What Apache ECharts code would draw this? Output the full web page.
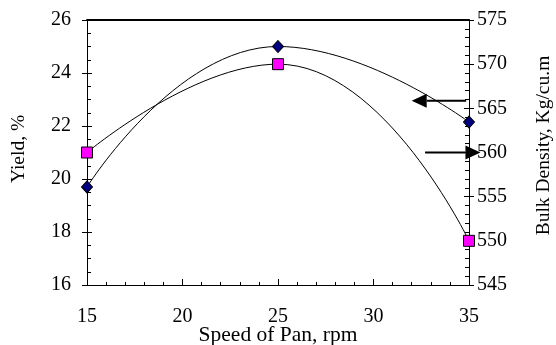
<!DOCTYPE html>
<html>
<head>
<meta charset="utf-8">
<script src="https://cdn.jsdelivr.net/npm/echarts@6/dist/echarts.min.js"></script>
<style>
  html, body { margin: 0; padding: 0; background: #fff; }
  #chart { width: 556px; height: 345px; }
</style>
</head>
<body>
<div id="chart"></div>
<script>
// speed of pan (rpm)
const speed = [15, 25, 35];
// yield, % (left axis, diamonds)
const yieldPct = [19.7, 25.0, 22.15];
// bulk density, Kg/cu.m (right axis, squares)
const bulkDensity = [560, 570, 550];
// arrows: [fromX, toX, y] -- left arrow on yield scale, right arrow on density scale
const yieldArrow = [34.85, 32.0, 22.95];
const densityArrow = [32.7, 35.6, 560];

const FONT = 'Liberation Serif';
const ink = '#000';

const tickLabel = { color: ink, fontFamily: FONT, fontSize: 20 };

function valAxis(opt) {
  return Object.assign({
    type: 'value',
    splitLine: { show: false },
    nameMoveOverlap: false,
    axisLine: { show: true, lineStyle: { color: ink, width: 1 } },
  }, opt);
}

const chart = echarts.init(document.getElementById('chart'), null, { renderer: 'canvas' });

const option = {
  animation: false,
  backgroundColor: '#fff',
  grid: { left: 87, right: 87, top: 20, bottom: 60, outerBoundsMode: 'none', containLabel: false },
  xAxis: [
    valAxis({
      min: 15, max: 35, interval: 5,
      name: 'Speed of Pan, rpm', nameLocation: 'middle', nameGap: 39,
      nameTextStyle: { color: ink, fontFamily: FONT, fontSize: 21.5 },
      axisTick: { inside: true, length: 6, lineStyle: { color: ink } },
      minorTick: { show: true, splitNumber: 5, length: 3, lineStyle: { color: ink } },
      axisLabel: Object.assign({ margin: 22 }, tickLabel)
    }),
    valAxis({
      position: 'top', min: 15, max: 35,
      axisLine: { show: true, lineStyle: { color: ink, width: 2 } },
      axisTick: { show: false }, axisLabel: { show: false }
    })
  ],
  yAxis: [
    valAxis({
      position: 'left', min: 16, max: 26, interval: 2,
      name: 'Yield, %', nameLocation: 'middle', nameGap: 58, nameRotate: 90,
      nameTextStyle: { color: ink, fontFamily: FONT, fontSize: 19.5, padding: [0, 0, 0, 7] },
      axisTick: { inside: false, length: 5, lineStyle: { color: ink } },
      axisLabel: Object.assign({ margin: 16 }, tickLabel)
    }),
    valAxis({
      position: 'left', min: 16, max: 26, interval: 2,
      axisLine: { show: false },
      axisTick: { inside: true, length: 5, lineStyle: { color: ink } },
      minorTick: { show: true, splitNumber: 4, length: 4, lineStyle: { color: ink } },
      axisLabel: { show: false }
    }),
    valAxis({
      position: 'right', min: 545, max: 575, interval: 5,
      name: 'Bulk Density, Kg/cu.m', nameLocation: 'middle', nameGap: 65, nameRotate: 90,
      nameTextStyle: { color: ink, fontFamily: FONT, fontSize: 19.5, padding: [0, 0, 0, 14] },
      axisTick: { inside: false, length: 5, lineStyle: { color: ink } },
      axisLabel: Object.assign({ margin: 8 }, tickLabel)
    }),
    valAxis({
      position: 'right', min: 545, max: 575, interval: 5,
      axisLine: { show: false },
      axisTick: { inside: true, length: 5, lineStyle: { color: ink } },
      minorTick: { show: true, splitNumber: 5, length: 4, lineStyle: { color: ink } },
      axisLabel: { show: false }
    })
  ],
  series: [
    {
      name: 'Yield', type: 'line', xAxisIndex: 0, yAxisIndex: 0,
      data: speed.map((s, i) => [s, yieldPct[i]]),
      smooth: 0.5, clip: false,
      lineStyle: { color: ink, width: 1 },
      symbol: 'diamond', symbolSize: [11, 12],
      itemStyle: { color: '#000080', borderColor: ink, borderWidth: 1 },
      z: 3
    },
    {
      name: 'Bulk Density', type: 'line', xAxisIndex: 0, yAxisIndex: 2,
      data: speed.map((s, i) => [s, bulkDensity[i]]),
      smooth: 0.5, clip: false,
      lineStyle: { color: ink, width: 1 },
      symbol: 'rect', symbolSize: 11,
      itemStyle: { color: '#ff00ff', borderColor: ink, borderWidth: 1 },
      z: 3
    }
  ]
};

chart.setOption(option);

// arrows placed through the axes' own scales
function arrow(from, to, headLen, headHalf) {
  const dir = Math.sign(to[0] - from[0]);
  const base = to[0] - dir * headLen;
  return [
    {
      type: 'line', z: 10,
      shape: { x1: from[0], y1: from[1], x2: base, y2: to[1] },
      style: { stroke: ink, lineWidth: 2 }
    },
    {
      type: 'polygon', z: 10,
      shape: { points: [[to[0], to[1]], [base, to[1] - headHalf], [base, to[1] + headHalf]] },
      style: { fill: ink }
    }
  ];
}

const ya0 = chart.convertToPixel({ xAxisIndex: 0, yAxisIndex: 0 }, [yieldArrow[0], yieldArrow[2]]);
const ya1 = chart.convertToPixel({ xAxisIndex: 0, yAxisIndex: 0 }, [yieldArrow[1], yieldArrow[2]]);
const da0 = chart.convertToPixel({ xAxisIndex: 0, yAxisIndex: 2 }, [densityArrow[0], densityArrow[2]]);
const da1 = chart.convertToPixel({ xAxisIndex: 0, yAxisIndex: 2 }, [densityArrow[1], densityArrow[2]]);

chart.setOption({
  graphic: [].concat(arrow(ya0, ya1, 15, 7), arrow(da0, da1, 15, 7))
});
</script>
</body>
</html>
